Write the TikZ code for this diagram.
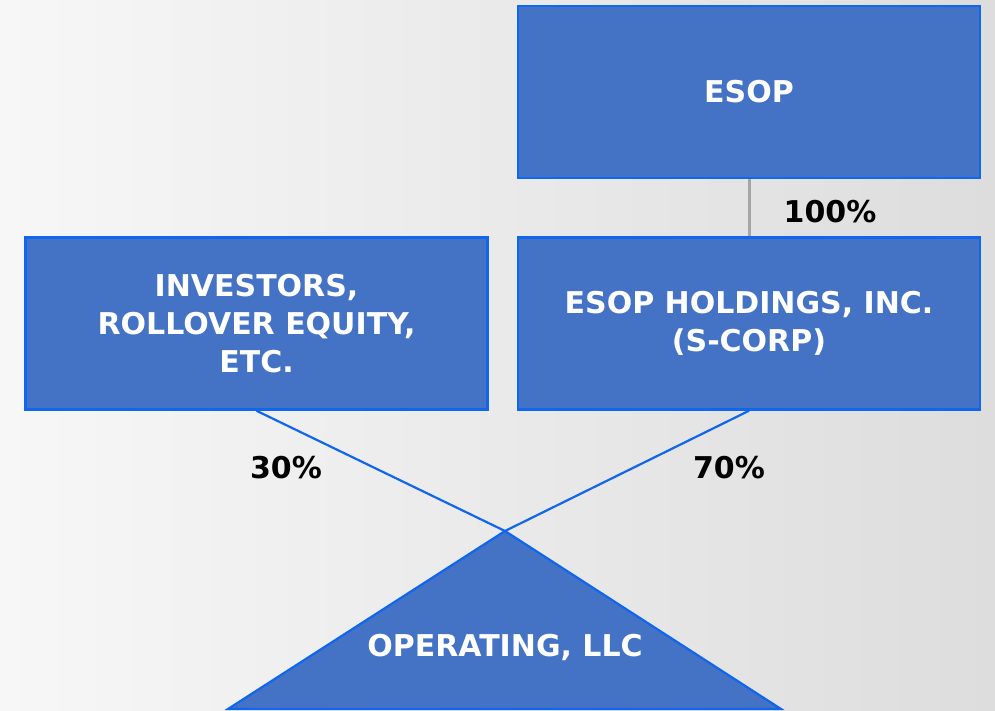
\documentclass[tikz,border=0pt]{standalone}
\usepackage{fontspec}
\setmainfont{DejaVu Sans}
\definecolor{boxblue}{HTML}{4472C4}
\definecolor{edgeblue}{HTML}{1166EE}
\definecolor{linkgray}{HTML}{A6A6A6}
\definecolor{bgleft}{HTML}{F7F7F7}
\definecolor{bgright}{HTML}{DDDDDD}
\begin{document}
\begin{tikzpicture}[x=1pt,y=-1pt,
  entity/.style={draw=edgeblue, line width=2.5pt, fill=boxblue, text=white,
    font=\bfseries\fontsize{30}{38}\selectfont, align=center, inner sep=0pt,
    minimum width=462pt, minimum height=172pt},
  share/.style={font=\bfseries\fontsize{30}{35}\selectfont, text=black, inner sep=0pt},
  link/.style={draw=edgeblue, line width=2.2pt},
  owner/.style={draw=linkgray, line width=3pt}]

% page background
\shade[left color=bgleft, right color=bgright] (0,0) rectangle (995,711);
\useasboundingbox (0,0) rectangle (995,711);

% ownership entities
\node[entity] (esop) at (749,92) {ESOP};
\node[entity] (inv)  at (256.5,323.5) {INVESTORS,\\ROLLOVER EQUITY,\\ETC.};
\node[entity] (hold) at (749,323.5) {ESOP HOLDINGS, INC.\\(S-CORP)};

% operating company triangle
\coordinate (apex) at (505,531);
\coordinate (bl) at (228,709);
\coordinate (br) at (781,709);
\draw[link, fill=boxblue] (apex) -- (br) -- (bl) -- cycle;
\node[text=white, font=\bfseries\fontsize{30}{35}\selectfont] (op) at (505,647) {OPERATING, LLC};

% ownership links
\draw[owner] (esop.south) -- (hold.north);
\draw[link] (inv.south) -- (apex);
\draw[link] (hold.south) -- (apex);

% percentages
\node[share] (p100) at (830,212) {100\%};
\node[share] (p30)  at (286,468) {30\%};
\node[share] (p70)  at (729,468) {70\%};
\end{tikzpicture}
\end{document}
